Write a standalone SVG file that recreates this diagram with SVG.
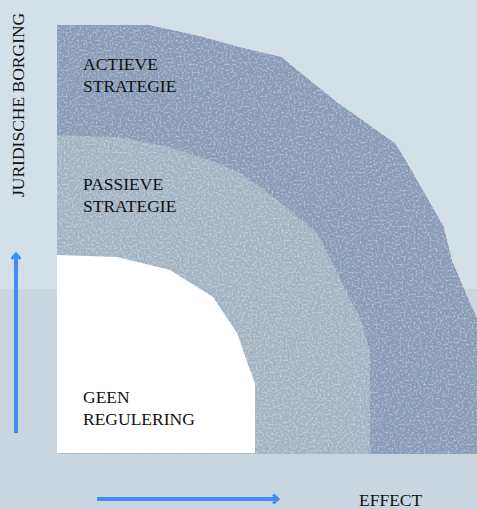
<svg xmlns="http://www.w3.org/2000/svg" width="477" height="509" viewBox="0 0 477 509">
<style>
.lbl{font-family:"Liberation Serif","Times New Roman",serif;font-size:17.5px;fill:#111111}
.arr{stroke:#3f8ef5;stroke-width:4;fill:none}
</style>
<defs>
<filter id="grain" x="0" y="0" width="1" height="1" filterUnits="objectBoundingBox">
<feTurbulence type="fractalNoise" baseFrequency="0.5" numOctaves="2" seed="5" result="n"/>
<feColorMatrix in="n" type="matrix" values="0 0 0 0 1  0 0 0 0 1  0 0 0 0 1  0.9 0 0 0 -0.4" result="light"/>
<feColorMatrix in="n" type="matrix" values="0 0 0 0 0.3  0 0 0 0 0.38  0 0 0 0 0.5  -0.9 0 0 0 0.45" result="dark"/>
<feMerge result="m"><feMergeNode in="SourceGraphic"/><feMergeNode in="light"/><feMergeNode in="dark"/></feMerge>
<feComposite in="m" in2="SourceGraphic" operator="in"/>
</filter>
<marker id="chev" markerWidth="8" markerHeight="10" refX="6" refY="5" orient="auto" markerUnits="userSpaceOnUse">
<path d="M1,0.5 L6,5 L1,9.5" stroke="#3f8ef5" stroke-width="3" fill="none"/>
</marker>
</defs>
<rect x="0" y="0" width="477" height="289" fill="#d4e0e8"/>
<rect x="0" y="289" width="477" height="220" fill="#c9d6e0"/>
<g id="actieve">
<polygon points="57,25 150,25 200,36 240,47 282,57 290,64 337,102 395,143 404,157 444,227 452,260 466,293 477,318 477,454 57,454" fill="#8499b6" filter="url(#grain)"/>
<text class="lbl" x="83" y="70">ACTIEVE</text>
<text class="lbl" x="83" y="92">STRATEGIE</text>
</g>
<g id="passieve">
<polygon points="57,135 120,137 170,147 210,160 237,171 262,188 290,210 317,233 327,252 347,293 360,317 370,350 370,454 57,454" fill="#a2b4c2" filter="url(#grain)"/>
<text class="lbl" x="83" y="190">PASSIEVE</text>
<text class="lbl" x="83" y="212">STRATEGIE</text>
</g>
<g id="geen">
<polygon points="57,255 117,257 170,270 213,297 237,333 250,370 255,383 255,453 57,453" fill="#ffffff"/>
<text class="lbl" x="83" y="403">GEEN</text>
<text class="lbl" x="83" y="425">REGULERING</text>
</g>
<g id="axes">
<line class="arr" x1="16" y1="433" x2="16" y2="254" marker-end="url(#chev)"/>
<line class="arr" x1="97" y1="499" x2="278" y2="499" marker-end="url(#chev)"/>
<text class="lbl" transform="translate(24,197) rotate(-90)" x="0" y="0">JURIDISCHE BORGING</text>
<text class="lbl" x="359" y="506">EFFECT</text>
</g>
</svg>
